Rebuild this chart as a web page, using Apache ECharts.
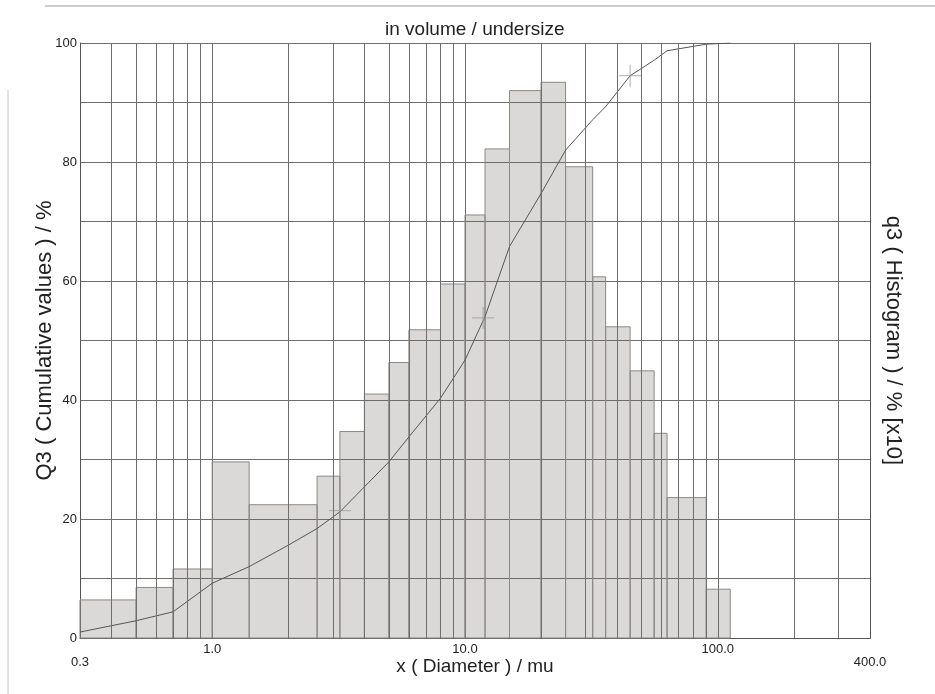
<!DOCTYPE html>
<html><head><meta charset="utf-8">
<script src="https://cdn.jsdelivr.net/npm/echarts@6/dist/echarts.min.js"></script>
<style>html,body{margin:0;padding:0;background:#fff}#c{width:935px;height:694px}</style>
</head><body><div id="c"></div>
<script>
// Histogram bin edges (µm) and q3 heights (% x10)
const binEdges = [0.3, 0.5, 0.7, 1.0, 1.4, 2.6, 3.2, 4.0, 5.0, 6.0, 8.0, 10, 12, 15, 20, 25, 32, 36, 45, 56, 63, 90, 112];
const q3Values = [6.4, 8.5, 11.6, 29.6, 22.4, 27.2, 34.7, 41.0, 46.3, 51.8, 59.5, 71.1, 82.2, 92.0, 93.4, 79.2, 60.7, 52.3, 44.9, 34.4, 23.6, 8.2];
// Cumulative curve Q3
const cumDiameters = [0.3, 0.5, 0.7, 1.0, 1.4, 2.0, 2.6, 3.2, 4.0, 5.0, 6.0, 8.0, 10, 12, 15, 20, 25, 32, 36, 45, 56, 63, 90, 112];
const cumValues = [1.0, 2.9, 4.4, 9.2, 12.0, 15.6, 18.4, 21.2, 25.4, 29.6, 33.8, 40.3, 46.7, 54.0, 65.8, 74.7, 82.0, 87.1, 89.3, 94.5, 97.1, 98.7, 99.8, 100];
// Cross marks on the curve
const markDiameters = [3.2, 11.8, 45];
const markValues = [21.4, 53.8, 94.5];
// Log grid lines between decades
const minorGridDiameters = [0.4, 0.5, 0.6, 0.7, 0.8, 0.9, 2, 3, 4, 5, 6, 7, 8, 9, 20, 30, 40, 50, 60, 70, 80, 90, 200, 300];
const xEdgeTicks = [0.3, 400];

const FONT = 'Liberation Sans, Arial, sans-serif';
const GRID = '#6e6e6e';

const histData = q3Values.map((h, i) => [binEdges[i], binEdges[i + 1], h]);
const cumData = cumDiameters.map((d, i) => [d, cumValues[i]]);
const markData = markDiameters.map((d, i) => [d, markValues[i]]);

const chart = echarts.init(document.getElementById('c'), null, {renderer: 'canvas'});
chart.setOption({
  animation: false,
  backgroundColor: '#fff',
  title: {
    text: 'in volume / undersize', left: 380, top: 15,
    textStyle: {fontFamily: FONT, fontSize: 19, fontWeight: 'normal', color: '#222'}
  },
  grid: {left: 80, right: 65, top: 43, bottom: 56, outerBoundsMode: 'none', containLabel: false},
  xAxis: {
    type: 'log', logBase: 10, min: 0.3, max: 400,
    name: 'x ( Diameter ) / mu', nameLocation: 'middle', nameGap: 19, nameMoveOverlap: false,
    nameTextStyle: {fontFamily: FONT, fontSize: 19, color: '#222'},
    axisLine: {show: true, lineStyle: {color: '#555', width: 1}},
    axisTick: {show: false},
    axisLabel: {
      fontFamily: FONT, fontSize: 13, color: '#222', margin: 5, lineHeight: 13,
      showMinLabel: true, showMaxLabel: true,
      formatter: v => {
        const s = Number(v).toFixed(1);
        return xEdgeTicks.some(e => Math.abs(e - v) < 1e-6) ? '\n' + s : s;
      }
    },
    splitLine: {show: true, lineStyle: {color: GRID, width: 1}}
  },
  yAxis: [{
    type: 'value', min: 0, max: 100, interval: 10,
    name: 'Q3 ( Cumulative values ) / %', nameLocation: 'middle', nameGap: 24, nameRotate: 90, nameMoveOverlap: false,
    nameTextStyle: {fontFamily: FONT, fontSize: 22, color: '#222'},
    axisLine: {show: true, lineStyle: {color: '#555'}},
    axisTick: {show: false},
    axisLabel: {
      fontFamily: FONT, fontSize: 13, color: '#222', margin: 3, padding: [0, 0, 9, 0],
      formatter: v => (v % 20 === 0 ? String(v) : '')
    },
    splitLine: {show: true, lineStyle: {color: GRID, width: 1}}
  }, {
    type: 'value', min: 0, max: 100, interval: 10, position: 'right',
    name: 'q3 ( Histogram ) / % [x10]', nameLocation: 'middle', nameGap: 12, nameRotate: -90, nameMoveOverlap: false,
    nameTextStyle: {fontFamily: FONT, fontSize: 22, color: '#222'},
    axisLine: {show: true, lineStyle: {color: '#555'}},
    axisTick: {show: false}, axisLabel: {show: false}, splitLine: {show: false}
  }],
  graphic: [
    {type: 'line', shape: {x1: 45, y1: 6, x2: 935, y2: 6}, style: {stroke: '#999', lineWidth: 1}, silent: true},
    {type: 'line', shape: {x1: 8, y1: 90, x2: 8, y2: 694}, style: {stroke: '#c4c4c4', lineWidth: 1}, silent: true}
  ],
  series: [{
    type: 'custom', name: 'q3', yAxisIndex: 1,
    data: histData,
    encode: {x: [0, 1], y: 2},
    renderItem: (params, api) => {
      const p0 = api.coord([api.value(0), api.value(2)]);
      const p1 = api.coord([api.value(1), 0]);
      return {type: 'rect', shape: {x: p0[0], y: p0[1], width: p1[0] - p0[0], height: p1[1] - p0[1]},
        style: {fill: 'rgba(110,104,98,0.25)', stroke: '#8c8884', lineWidth: 1}};
    },
    markLine: {
      silent: true, symbol: 'none', label: {show: false},
      lineStyle: {color: GRID, width: 1, type: 'solid'},
      data: minorGridDiameters.map(v => ({xAxis: v}))
    },
    z: 2
  }, {
    type: 'line', name: 'Q3', data: cumData, showSymbol: false, smooth: false,
    lineStyle: {color: '#555', width: 1}, z: 4
  }, {
    type: 'scatter', data: markData, symbol: 'path://M0,10L20,10M10,0L10,20', symbolSize: 22,
    itemStyle: {color: 'rgba(0,0,0,0)', borderColor: '#999', borderWidth: 1}, z: 4
  }]
});
</script></body></html>
